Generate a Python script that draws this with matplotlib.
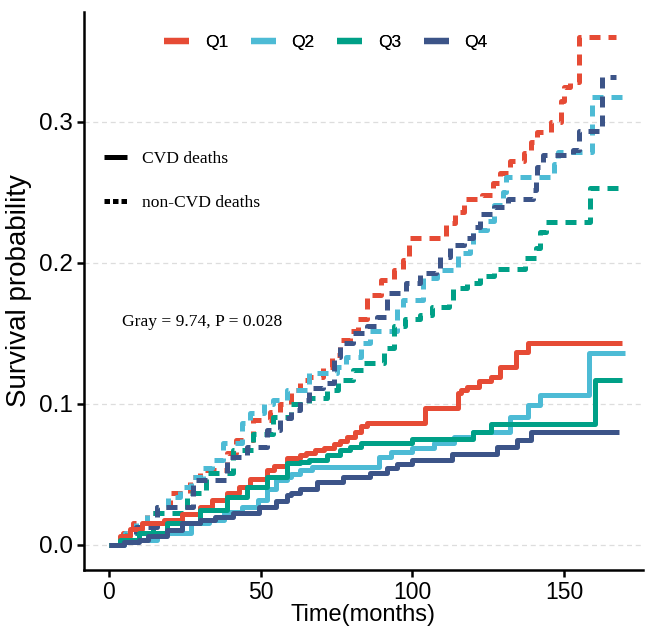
import matplotlib
matplotlib.use('Agg')
import matplotlib.pyplot as plt
from matplotlib.lines import Line2D

plt.rcParams['font.family'] = ['Liberation Sans', 'DejaVu Sans']

GROUPS = ['Q1', 'Q2', 'Q3', 'Q4']
COLORS = ['#E64B35', '#4DBBD5', '#00A087', '#3C5488']

# CVD deaths (solid), step curves
q1_cvd_t = [0, 3.6, 7, 11, 18, 24, 30, 34, 39, 43, 46.5, 52, 54.5, 58.7, 63, 65, 68, 71, 74, 76,
            78.5, 81, 83, 85, 104, 115, 116, 118, 122, 126, 129, 134, 138, 169]
q1_cvd_v = [0, .006, .011, .0156, .018, .022, .027, .032, .037, .041, .047, .053, .056, .0617, .064,
            .065, .067, .069, .0716, .0737, .0766, .080, .084, .0865, .097, .108, .110, .112, .116,
            .119, .126, .137, .143, .143]

q2_cvd_t = [0, 5, 16, 27, 33, 38, 44, 49, 52, 55, 58.7, 60, 63, 67, 89, 93, 100, 107, 113.6, 120,
            132, 138, 142, 158, 170]
q2_cvd_v = [0, .0035, .0085, .0156, .018, .023, .027, .032, .040, .046, .048, .050, .053, .055,
            .0624, .066, .069, .072, .0766, .080, .091, .099, .106, .136, .136]

q3_cvd_t = [0, 3.6, 10, 19, 30, 39, 45.5, 52, 58.7, 63, 66, 72, 76, 79.5, 83, 100, 120, 126, 160, 169]
q3_cvd_v = [0, .0035, .0085, .0156, .025, .034, .041, .048, .058, .059, .060, .064, .067, .0695,
            .072, .075, .080, .086, .117, .117]

q4_cvd_t = [0, 5, 10, 13, 19, 24, 30, 35, 41, 49.5, 55, 58.7, 60, 63, 68.6, 77, 86, 91.6, 95, 100,
            113, 128, 134.5, 139, 168]
q4_cvd_v = [0, .002, .0035, .006, .0106, .0156, .018, .020, .0227, .027, .031, .0355, .037, .040,
            .0447, .048, .051, .0546, .0575, .060, .0645, .0695, .0745, .080, .080]

# non-CVD deaths (dashed)
q1_non_t = [0, 4.6, 8, 12.5, 16, 20, 26.7, 30, 39, 42, 47.5, 53, 56.4, 60, 63, 66, 70.6, 73.6, 76,
            79.5, 82, 85, 89.5, 94, 97, 99, 111, 114, 117, 123, 126.4, 129, 132, 136.6, 139, 141,
            145.5, 149, 150, 152, 154.8, 167]
q1_non_v = [0, .0085, .0156, .0227, .027, .037, .048, .053, .065, .0745, .0887, .094, .10, .11,
            .117, .119, .126, .135, .145, .152, .16, .177, .188, .195, .202, .218, .228, .236, .245,
            .248, .257, .264, .272, .278, .286, .293, .30, .315, .325, .328, .36, .36]

q2_non_t = [0, 1.3, 5.3, 9, 12.5, 15.8, 19.5, 23.4, 27, 31, 34, 37.6, 44, 46.5, 51, 54, 58.7, 66,
            75, 78, 83, 86, 95, 97, 103.6, 108, 115, 119, 120, 124.6, 127, 129.7, 130.7, 146.5,
            148, 159, 170]
q2_non_v = [0, 0, .0085, .0156, .0227, .027, .034, .041, .048, .0546, .06, .072, .0865, .0936, .10,
            .103, .11, .122, .126, .133, .143, .152, .169, .174, .189, .195, .207, .213, .223, .23,
            .241, .25, .261, .27, .279, .318, .318]

q3_non_t = [0, 3, 6, 14.6, 25.6, 32, 41, 47.5, 54, 60, 66, 72, 75.6, 80.5, 84, 90.5, 94, 97.7,
            102.6, 106.6, 112, 113.5, 118, 122.4, 127, 137, 140.6, 142, 144, 158.5, 168.6]
q3_non_v = [0, .004, .0085, .0227, .037, .051, .067, .079, .091, .10, .104, .11, .117, .124, .129,
            .14, .155, .16, .163, .169, .172, .182, .186, .191, .196, .2035, .2106, .222, .229,
            .253, .253]

q4_non_t = [0, 4.6, 9, 16, 27.7, 39, 45.5, 52, 56.4, 60, 63, 66, 70.6, 74, 76, 80.5, 85, 88.4, 91.7,
            98, 102.6, 107.6, 109, 112.5, 117, 119.8, 122.4, 127, 131.4, 139.6, 140.6, 141, 143,
            153, 155, 162.6, 167]
q4_non_v = [0, .006, .0128, .027, .046, .0624, .0695, .0816, .09, .096, .103, .111, .115, .133,
            .143, .150, .155, .162, .179, .186, .193, .194, .204, .213, .218, .2255, .235, .24,
            .245, .252, .259, .268, .2766, .28, .2936, .332, .332]

cvd_t = [q1_cvd_t, q2_cvd_t, q3_cvd_t, q4_cvd_t]
cvd_v = [q1_cvd_v, q2_cvd_v, q3_cvd_v, q4_cvd_v]
non_t = [q1_non_t, q2_non_t, q3_non_t, q4_non_t]
non_v = [q1_non_v, q2_non_v, q3_non_v, q4_non_v]

X_TICKS = [0, 50, 100, 150]
Y_TICKS = [0.0, 0.1, 0.2, 0.3]
Y_LABELS = ['0.0', '0.1', '0.2', '0.3']

LW = 3.6

fig = plt.figure(figsize=(6.49, 6.29), dpi=100)
ax = fig.add_axes([0.129, 0.094, 0.862, 0.887])

for t, v, c in zip(non_t, non_v, COLORS):
    ax.plot(t, v, drawstyle='steps-post', color=c, lw=LW, dashes=(2.2, 1.6),
            solid_capstyle='butt', dash_capstyle='butt')
for t, v, c in zip(cvd_t, cvd_v, COLORS):
    ax.plot(t, v, drawstyle='steps-post', color=c, lw=LW, solid_capstyle='butt')

ax.set_xlim(-8.3, 176)
ax.set_ylim(-0.0177, 0.378)
ax.set_xticks(X_TICKS)
ax.set_yticks(Y_TICKS)
ax.set_yticklabels(Y_LABELS)
ax.yaxis.grid(True, color='#DDDDDD', linestyle=(0, (4, 3)), lw=0.9)
ax.set_axisbelow(True)

for s in ['top', 'right']:
    ax.spines[s].set_visible(False)
for s in ['left', 'bottom']:
    ax.spines[s].set_linewidth(1.8)
ax.tick_params(axis='both', width=1.8, length=5, colors='black', pad=3)
ax.tick_params(axis='x', labelsize=16.5)
ax.tick_params(axis='y', labelsize=17.5)

ax.set_xlabel('Time(months)', fontsize=17, labelpad=0)
ax.set_ylabel('Survival probability', fontsize=20, labelpad=5)

ax.text(4.3, 0.158, 'Gray = 9.74, P = 0.028', family='Liberation Serif', fontsize=12.6,
        ha='left', va='center')

# group legend at the top
q_handles = [Line2D([], [], color=c, lw=4.5, solid_capstyle='butt') for c in COLORS]
leg = fig.legend(q_handles, GROUPS, loc='center', bbox_to_anchor=(0.502, 0.933), ncol=4,
                 frameon=False, fontsize=12.5, handlelength=1.45, handletextpad=0.9,
                 columnspacing=1.3)

# line type legend
type_handles = [Line2D([], [], color='black', lw=3.6, solid_capstyle='butt'),
                Line2D([], [], color='black', lw=3.6, dashes=(1.1, 0.6), dash_capstyle='butt')]
leg2 = ax.legend(type_handles, ['CVD deaths', 'non-CVD deaths'], loc='upper left',
                 bbox_to_anchor=(0.008, 0.779), frameon=False, handlelength=1.3,
                 handletextpad=0.9, labelspacing=1.55,
                 prop={'family': 'Liberation Serif', 'size': 12.6})
ax.add_artist(leg)

fig.savefig('out.png', dpi=100)
